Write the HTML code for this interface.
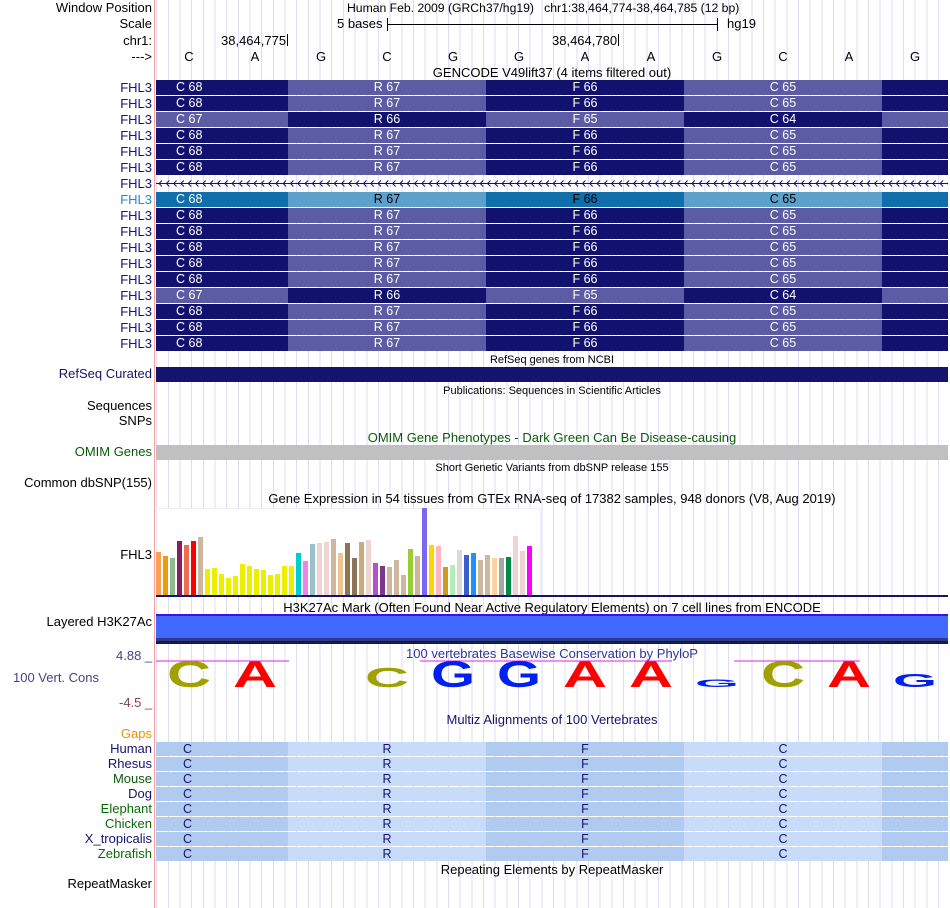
<!DOCTYPE html>
<html><head><meta charset="utf-8"><style>
body{margin:0;width:950px;height:908px;background:#fff;position:relative;overflow:hidden;font-family:"Liberation Sans",sans-serif;font-size:13px;}
.a{position:absolute;white-space:nowrap;line-height:14px;}
.lbl{position:absolute;right:798px;white-space:nowrap;line-height:14px;text-align:right;}
.ttl{position:absolute;left:156px;width:792px;text-align:center;line-height:14px;}
.sm{font-size:11px;}
#grid{position:absolute;left:155px;top:0;width:795px;height:908px;background:repeating-linear-gradient(90deg,transparent 0,transparent 1.2px,#dcdcf4 1.2px,#dcdcf4 2.2px,transparent 2.2px,transparent 11.67px);}
.seg{position:absolute;height:15px;color:#fff;text-align:center;line-height:15px;font-size:12.5px;}
</style></head><body>
<div id="grid"></div>
<div style="position:absolute;left:154px;top:0;width:1px;height:908px;background:#f4a0a0"></div>

<div class="lbl" style="top:1px">Window Position</div>
<div class="lbl" style="top:17px">Scale</div>
<div class="lbl" style="top:34px">chr1:</div>
<div class="lbl" style="top:50px">---&gt;</div>
<div class="a" style="left:347px;top:1px;font-size:12.2px">Human Feb. 2009 (GRCh37/hg19)&nbsp;&nbsp;&nbsp;chr1:38,464,774-38,464,785 (12 bp)</div>
<div class="a" style="left:337px;top:17px">5 bases</div>
<div style="position:absolute;left:387px;top:24px;width:330px;height:1px;background:#000"></div>
<div style="position:absolute;left:387px;top:18px;width:1px;height:13px;background:#000"></div>
<div style="position:absolute;left:717px;top:18px;width:1px;height:13px;background:#000"></div>
<div class="a" style="left:727px;top:17px">hg19</div>
<div class="a" style="left:221px;top:34px">38,464,775</div>
<div style="position:absolute;left:287px;top:34px;width:1px;height:12px;background:#000"></div>
<div class="a" style="left:552px;top:34px">38,464,780</div>
<div style="position:absolute;left:618px;top:34px;width:1px;height:12px;background:#000"></div>
<div id="bases"></div>
<div class="ttl" style="top:66px">GENCODE V49lift37 (4 items filtered out)</div>
<div id="genes"></div>

<div class="ttl sm" style="top:353px">RefSeq genes from NCBI</div>
<div class="lbl" style="top:367px;color:#14146e">RefSeq Curated</div>
<div style="position:absolute;left:156px;top:367px;width:792px;height:15px;background:#14146e"></div>
<div class="ttl sm" style="top:384px">Publications: Sequences in Scientific Articles</div>
<div class="lbl" style="top:399px">Sequences</div>
<div class="lbl" style="top:414px">SNPs</div>
<div class="ttl" style="top:431px;color:#0a5a0a">OMIM Gene Phenotypes - Dark Green Can Be Disease-causing</div>
<div class="lbl" style="top:445px;color:#0a5a0a">OMIM Genes</div>
<div style="position:absolute;left:156px;top:445px;width:792px;height:15px;background:#c0c0c0"></div>
<div class="ttl sm" style="top:461px">Short Genetic Variants from dbSNP release 155</div>
<div class="lbl" style="top:476px">Common dbSNP(155)</div>
<div class="ttl" style="top:492px">Gene Expression in 54 tissues from GTEx RNA-seq of 17382 samples, 948 donors (V8, Aug 2019)</div>
<div class="lbl" style="top:548px">FHL3</div>
<div style="position:absolute;left:156px;top:508px;width:385px;height:88px;background:#fff;border:1px solid #ececf4;box-sizing:border-box"></div>
<svg id="gtex" style="position:absolute;left:0;top:0" width="950" height="908"></svg>
<div style="position:absolute;left:156px;top:595px;width:792px;height:2px;background:#14146e"></div>

<div class="ttl" style="top:601px">H3K27Ac Mark (Often Found Near Active Regulatory Elements) on 7 cell lines from ENCODE</div>
<div class="lbl" style="top:615px">Layered H3K27Ac</div>
<div style="position:absolute;left:156px;top:614px;width:792px;height:2px;background:#4010e0"></div>
<div style="position:absolute;left:156px;top:616px;width:792px;height:22px;background:#4169ff"></div>
<div style="position:absolute;left:156px;top:638px;width:792px;height:3px;background:#2a3c90"></div>
<div style="position:absolute;left:156px;top:641px;width:792px;height:3px;background:#18184a"></div>

<div class="a" style="left:116px;top:649px;color:#444488">4.88 _</div>
<div class="a" style="left:13px;top:671px;color:#444488">100 Vert. Cons</div>
<div class="a" style="left:119px;top:696px;color:#884444">-4.5 _</div>
<div class="ttl" style="top:647px;color:#333399">100 vertebrates Basewise Conservation by PhyloP</div>
<svg id="logo" style="position:absolute;left:0;top:0" width="950" height="908"></svg>

<div class="ttl" style="top:713px;color:#14146e">Multiz Alignments of 100 Vertebrates</div>
<div class="lbl" style="top:727px;color:#f0900a">Gaps</div>
<div id="multiz"></div>
<div class="ttl" style="top:863px">Repeating Elements by RepeatMasker</div>
<div class="lbl" style="top:877px">RepeatMasker</div>

<script>
var bases=['C','A','G','C','G','G','A','A','G','C','A','G'];
var codons=['C','R','F','C'];
var geneNums=[[68,67,66,65],[68,67,66,65],[67,66,65,64],[68,67,66,65],[68,67,66,65],[68,67,66,65],null,[68,67,66,65],[68,67,66,65],[68,67,66,65],[68,67,66,65],[68,67,66,65],[68,67,66,65],[67,66,65,64],[68,67,66,65],[68,67,66,65],[68,67,66,65]];
var gtexVals=[43,39,37,54,50,54,58,26,27,21,17,19,31,29,26,25,20,21,29,29,42,34,51,52,53,56,42,52,37,53,55,32,29,28,35,20,46,39,87,50,49,28,30,45,40,42,35,40,37,37,38,59,44,49];
var gtexColors=['#f9a150','#f29a0e','#8fbc8f','#8b1c62','#ee6a50','#ff0000','#cdb79e','#eeee00','#eeee00','#eeee00','#eeee00','#eeee00','#eeee00','#eeee00','#eeee00','#eeee00','#eeee00','#eeee00','#eeee00','#eeee00','#00cdcd','#ee82ee','#9ac0cd','#eed5d2','#eed5d2','#cdb79e','#eec591','#8b7355','#8b7355','#cdaa7d','#eed5d2','#b452cd','#7a378b','#cdb79e','#cdb79e','#cdb79e','#9acd32','#cdb79e','#7b68ee','#ffd700','#ffb6c1','#cd9b1d','#b4eeb4','#d9d9d9','#3a5fcd','#1e90ff','#cdb79e','#cdb79e','#ffd39b','#a6a6a6','#008b45','#eed5d2','#eed5d2','#ff00ff'];
var logoHeights=[27,27,0,20,27,27,27,27,8,27,27,13];
var species=['Human','Rhesus','Mouse','Dog','Elephant','Chicken','X_tropicalis','Zebrafish'];
var speciesColors=['#14146e','#14146e','#0a5a0a','#14146e','#0a6a0a','#0a6a0a','#14146e','#0a6a0a'];

var X0=156,BW=66,NS='http://www.w3.org/2000/svg';
function bx(i){return X0+BW*i;}
var bd=document.getElementById('bases');
bases.forEach(function(b,i){
  var d=document.createElement('div');d.className='a';
  d.style.left=(bx(i)+BW/2-5)+'px';d.style.top='50px';d.style.width='10px';d.style.textAlign='center';
  d.textContent=b;
  
  
  bd.appendChild(d);
});
var segs=[[0,2],[2,5],[5,8],[8,11],[11,12]];
var gd=document.getElementById('genes');
geneNums.forEach(function(nums,r){
  var y=80+16*r;
  var l=document.createElement('div');l.className='lbl';l.style.top=(y+1)+'px';
  l.style.color=(r==7)?'#1a8cd0':'#14146e';l.textContent='FHL3';
  
  
  gd.appendChild(l);
  if(!nums){
    var s=document.createElementNS(NS,'svg');s.setAttribute('width','792');s.setAttribute('height','15');
    s.style.position='absolute';s.style.left=X0+'px';s.style.top=y+'px';
    var p='M0 7.5H792';
    for(var x=3;x<792;x+=7.3)p+='M'+(x+3)+' 4.5L'+x+' 7.5L'+(x+3)+' 10.5';
    var pa=document.createElementNS(NS,'path');pa.setAttribute('d',p);pa.setAttribute('stroke','#14146e');pa.setAttribute('fill','none');
    s.appendChild(pa);
    
    
    gd.appendChild(s);return;
  }
  var inv=nums[0]==67;
  segs.forEach(function(sg,k){
    var d=document.createElement('div');d.className='seg';
    d.style.left=bx(sg[0])+'px';d.style.top=y+'px';d.style.width=(BW*(sg[1]-sg[0]))+'px';
    var dark=((k%2==0)!=inv);
    if(r==7){d.style.background=dark?'#106eaa':'#5da0cc';d.style.color=k==0?'#fff':'#000';}
    else d.style.background=dark?'#12126e':'#5c5ca4';
    if(k<4){d.textContent=codons[k]+' '+nums[k];if(k==0){d.style.textAlign='left';d.style.textIndent='20px';}}
    
    
    gd.appendChild(d);
  });
});
var gs=document.getElementById('gtex');
var gBase=595,gScale=1.0;
gtexVals.forEach(function(v,i){
  var r=document.createElementNS(NS,'rect');
  r.setAttribute('x',X0+7*i);r.setAttribute('width',5);
  r.setAttribute('y',gBase-v*gScale);r.setAttribute('height',v*gScale);
  r.setAttribute('fill',gtexColors[i]);
  
  
  gs.appendChild(r);
});
var lg=document.getElementById('logo');
[[156,289],[420,672],[734,860]].forEach(function(m){
  var l=document.createElementNS(NS,'line');l.setAttribute('x1',m[0]);l.setAttribute('x2',m[1]);l.setAttribute('y1',661);l.setAttribute('y2',661);l.setAttribute('stroke','#e020e0');
  
  
  lg.appendChild(l);
});
var lc={A:'#ff0000',C:'#a0a000',G:'#0020f0'};
bases.forEach(function(b,i){
  var h=logoHeights[i];if(!h)return;
  var t=document.createElementNS(NS,'text');
  var fs=h/0.72;
  t.setAttribute('x',bx(i)+11);t.setAttribute('y',687);
  t.setAttribute('font-size',fs);t.setAttribute('font-weight','bold');
  t.setAttribute('font-family','Liberation Sans, sans-serif');
  t.setAttribute('textLength',44);t.setAttribute('lengthAdjust','spacingAndGlyphs');
  t.setAttribute('fill',lc[b]);t.textContent=b;
  
  
  lg.appendChild(t);
});
var md=document.getElementById('multiz');
species.forEach(function(sp,r){
  var y=742+15*r;
  var l=document.createElement('div');l.className='lbl';l.style.top=(y)+'px';l.style.color=speciesColors[r];l.textContent=sp;
  
  
  md.appendChild(l);
  segs.forEach(function(sg,k){
    var d=document.createElement('div');d.className='seg';
    d.style.left=bx(sg[0])+'px';d.style.top=y+'px';d.style.height='14px';d.style.lineHeight='14px';
    d.style.width=(BW*(sg[1]-sg[0]))+'px';
    d.style.background=(k%2==0)?'#b0caf0':'#c8dcfa';d.style.color='#14146e';
    if(k<4){d.textContent=codons[k];if(k==0){d.style.textAlign='left';d.style.textIndent='27px';}}
    
    
    md.appendChild(d);
  });
});
</script>
</body></html>
